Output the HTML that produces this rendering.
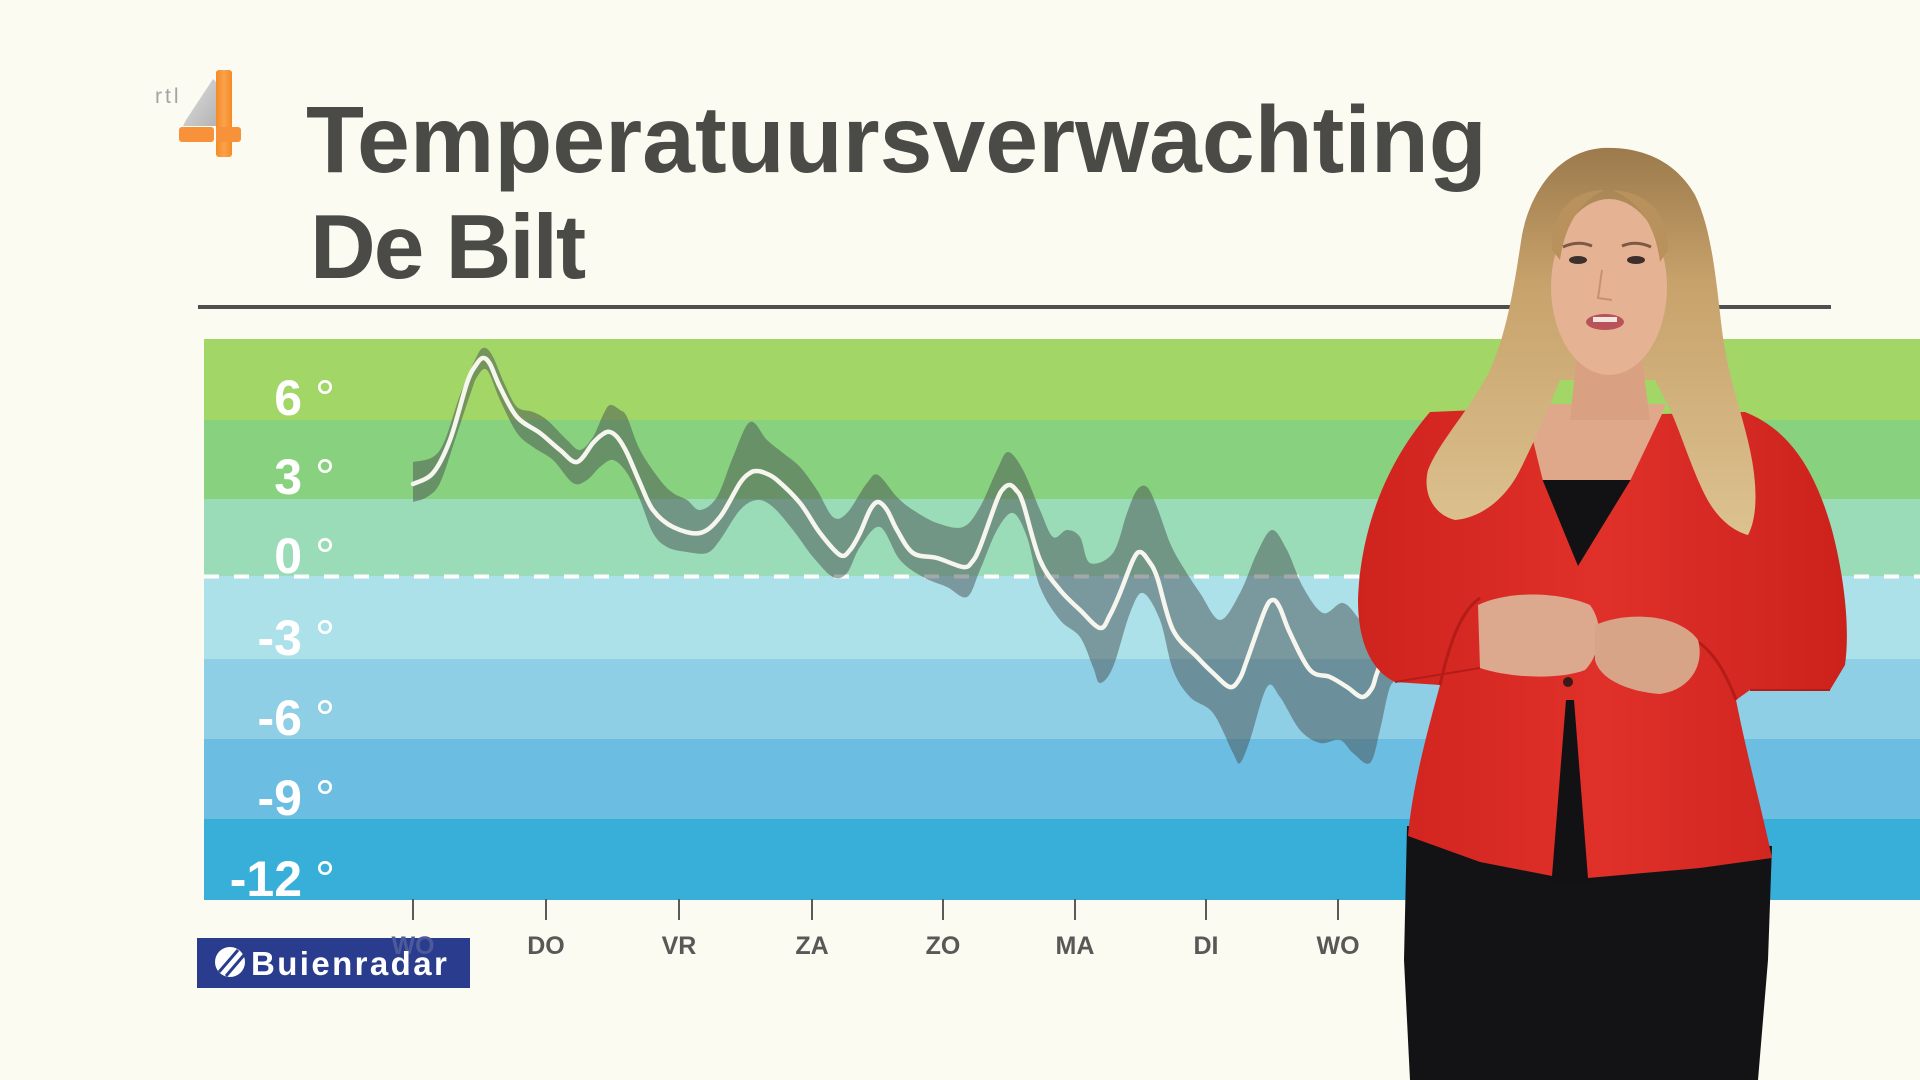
<!DOCTYPE html>
<html>
<head>
<meta charset="utf-8">
<style>
  html,body{margin:0;padding:0;background:#fbfbf1;}
  svg{display:block;}
  text{font-family:"Liberation Sans",Arial,sans-serif;}
</style>
</head>
<body>
<svg id="main" width="1920" height="1080" viewBox="0 0 1920 1080" xmlns="http://www.w3.org/2000/svg">
  <defs>
    <linearGradient id="hairG" x1="0" y1="0" x2="0" y2="1">
      <stop offset="0" stop-color="#9c7a4c"/>
      <stop offset="0.35" stop-color="#c8a26b"/>
      <stop offset="1" stop-color="#dcc290"/>
    </linearGradient>
    <linearGradient id="orG" x1="0" y1="0" x2="1" y2="0">
      <stop offset="0" stop-color="#f58a24"/>
      <stop offset="0.5" stop-color="#fba24e"/>
      <stop offset="1" stop-color="#f58a24"/>
    </linearGradient>
    <linearGradient id="grG" x1="0" y1="0" x2="1" y2="1">
      <stop offset="0" stop-color="#e0e0e0"/>
      <stop offset="1" stop-color="#b4b4b4"/>
    </linearGradient>
    <linearGradient id="jacketG" x1="0" y1="0" x2="1" y2="0">
      <stop offset="0" stop-color="#cf231d"/>
      <stop offset="0.5" stop-color="#e0302a"/>
      <stop offset="1" stop-color="#cc221c"/>
    </linearGradient>
  </defs>

  <!-- background -->
  <rect x="0" y="0" width="1920" height="1080" fill="#fbfbf1"/>

  <!-- RTL4 logo -->
  <text x="155" y="103" font-size="21" fill="#a3a3a3" letter-spacing="3">rtl</text>
  <polygon points="213,79 216,82 216,126 183,126 186,120" fill="url(#grG)"/>
  <rect x="216" y="70" width="16" height="87" rx="3" fill="url(#orG)"/>
  <rect x="179" y="127" width="35" height="15" rx="3" fill="#f7923a"/>
  <rect x="216" y="127" width="25" height="15" rx="3" fill="#f7923a"/>

  <!-- Title -->
  <text x="306" y="172" font-size="95" font-weight="bold" fill="#4a4b47">Temperatuursverwachting</text>
  <text x="310" y="278" font-size="91" font-weight="bold" fill="#4a4b47" letter-spacing="-2">De Bilt</text>

  <!-- rule -->
  <line x1="198" y1="307" x2="1831" y2="307" stroke="#4f4f4d" stroke-width="4"/>

  <!-- chart bands -->
  <rect x="204" y="339" width="1716" height="82" fill="#a2d667"/>
  <rect x="204" y="420" width="1716" height="80" fill="#88d17e"/>
  <rect x="204" y="499" width="1716" height="78" fill="#9adbb8"/>
  <rect x="204" y="576" width="1716" height="84" fill="#ace1ea"/>
  <rect x="204" y="659" width="1716" height="81" fill="#8fcfe5"/>
  <rect x="204" y="739" width="1716" height="81" fill="#6bbde1"/>
  <rect x="204" y="819" width="1716" height="81" fill="#38afd9"/>

  <!-- zero dashed line -->
  <line x1="204" y1="576.5" x2="1920" y2="576.5" stroke="#ffffff" stroke-width="4" stroke-dasharray="15 15"/>

  <!-- uncertainty band -->
  <polygon id="band" fill="rgba(72,82,82,0.5)" points="
413,462 433,457 445,440 460,395 475,360 483,348 492,355 505,385 517,407 533,412 547,420 567,440 580,450 593,437 603,415 610,405 620,410 627,417 640,450 660,480 673,493 687,500 700,510 717,497 733,457 750,422 767,440 783,453 800,467 817,490 833,517 847,513 867,483 878,475 897,497 913,510 937,523 963,527 980,507 997,470 1008,452 1023,470 1040,510 1053,537 1067,530 1080,537 1090,563 1113,553 1127,513 1137,490 1147,487 1157,507 1170,543 1183,567 1200,593 1220,620 1240,593 1257,553 1272,530 1287,550 1303,587 1323,613 1343,603 1360,620 1377,640 1400,660
1400,680 1390,687 1380,730 1370,763 1353,753 1340,740 1320,743 1300,730 1280,697 1267,687 1250,740 1240,763 1233,753 1213,713 1190,697 1173,670 1160,620 1143,593 1130,613 1113,667 1100,683 1093,667 1080,637 1060,620 1040,587 1027,537 1013,513 997,530 980,570 967,597 947,587 923,577 900,560 880,527 860,547 847,573 833,577 813,557 793,530 773,507 757,500 740,510 720,540 707,553 687,552 667,547 653,533 640,500 627,473 613,460 600,467 587,480 573,483 553,460 533,447 517,433 500,400 487,370 477,377 470,395 455,440 440,483 427,497 413,502"/>

  <!-- mean line -->
  <polyline id="meanline" fill="none" stroke="#f6f6ee" stroke-width="4.5" stroke-linejoin="round" stroke-linecap="round" points="
413,484 433,473 450,440 467,383 476,365 483,358 490,364 500,387 517,417 540,433 560,450 577,462 593,443 603,434 610,432 618,438 627,453 640,483 653,510 673,527 700,533 720,517 740,483 750,473 757,471 765,473 777,480 800,503 820,533 840,555 850,550 860,533 870,510 878,502 887,510 897,530 913,553 937,558 963,567 972,562 980,547 997,500 1004,488 1010,485 1016,490 1023,503 1040,560 1060,590 1080,610 1100,628 1110,615 1120,593 1133,560 1140,552 1148,560 1157,577 1173,630 1197,657 1213,673 1230,687 1240,678 1247,660 1265,610 1273,600 1280,608 1290,633 1310,670 1330,677 1347,687 1362,697 1372,688 1377,673 1390,640"/>

  <!-- y labels -->
  <g fill="#ffffff">
    <text x="302" y="415" font-size="50" font-weight="bold" text-anchor="end">6</text>
    <text x="302" y="494" font-size="50" font-weight="bold" text-anchor="end">3</text>
    <text x="302" y="573" font-size="50" font-weight="bold" text-anchor="end">0</text>
    <text x="302" y="655" font-size="50" font-weight="bold" text-anchor="end">-3</text>
    <text x="302" y="735" font-size="50" font-weight="bold" text-anchor="end">-6</text>
    <text x="302" y="815" font-size="50" font-weight="bold" text-anchor="end">-9</text>
    <text x="302" y="896" font-size="50" font-weight="bold" text-anchor="end">-12</text>
    <text x="315" y="415" font-size="50">°</text>
    <text x="315" y="494" font-size="50">°</text>
    <text x="315" y="573" font-size="50">°</text>
    <text x="315" y="655" font-size="50">°</text>
    <text x="315" y="735" font-size="50">°</text>
    <text x="315" y="815" font-size="50">°</text>
    <text x="315" y="896" font-size="50">°</text>
  </g>

  <!-- x ticks -->
  <g stroke="#5a5a58" stroke-width="2">
    <line x1="413" y1="899" x2="413" y2="920"/>
    <line x1="546" y1="899" x2="546" y2="920"/>
    <line x1="679" y1="899" x2="679" y2="920"/>
    <line x1="812" y1="899" x2="812" y2="920"/>
    <line x1="943" y1="899" x2="943" y2="920"/>
    <line x1="1075" y1="899" x2="1075" y2="920"/>
    <line x1="1206" y1="899" x2="1206" y2="920"/>
    <line x1="1338" y1="899" x2="1338" y2="920"/>
  </g>
  <g font-size="25" font-weight="bold" fill="#585856" text-anchor="middle">
    <text x="546" y="954">DO</text>
    <text x="679" y="954">VR</text>
    <text x="812" y="954">ZA</text>
    <text x="943" y="954">ZO</text>
    <text x="1075" y="954">MA</text>
    <text x="1206" y="954">DI</text>
    <text x="1338" y="954">WO</text>
  </g>

  <!-- Buienradar box -->
  <rect x="197" y="938" width="273" height="50" fill="#293c8e"/>
  <text x="413" y="954" font-size="25" font-weight="bold" fill="#4c5a9c" text-anchor="middle">WO</text>
  <circle cx="230" cy="962" r="15" fill="#ffffff"/>
  <line x1="219" y1="972" x2="238" y2="950" stroke="#293c8e" stroke-width="3"/>
  <line x1="226" y1="976" x2="244" y2="955" stroke="#293c8e" stroke-width="3"/>
  <text x="251" y="975" font-size="33" font-weight="bold" fill="#ffffff" letter-spacing="2.4">Buienradar</text>

  <!-- ===== Presenter ===== -->
  <path d="M1407,826 L1772,846 L1768,960 L1758,1080 L1410,1080 L1404,960 Z" fill="#131315"/>
  <polygon points="1548,688 1592,688 1594,882 1546,882" fill="#121214"/>
  <polygon points="1522,404 1666,404 1632,483 1541,483" fill="#dfa88b"/>
  <polygon points="1538,480 1636,480 1578,572" fill="#121214"/>
  <path fill="url(#jacketG)" d="M1430,412 L1525,408 L1543,481 L1578,566 L1630,481 L1662,414 L1745,412
    C1790,430 1815,470 1832,530 C1845,580 1850,630 1845,665 L1830,690 L1750,690 L1736,700
    C1748,760 1762,810 1772,858 L1700,868 L1588,878 L1574,700 L1566,700 L1552,876
    L1480,862 L1408,836 C1412,790 1425,740 1440,685 L1395,682
    C1370,670 1358,640 1358,600 C1360,540 1380,470 1430,412 Z"/>
  <path d="M1440,685 C1450,640 1462,610 1480,598" fill="none" stroke="#b51c17" stroke-width="3"/>
  <path d="M1736,700 C1725,670 1712,650 1695,640" fill="none" stroke="#b51c17" stroke-width="3"/>
  <path d="M1395,682 L1480,668" fill="none" stroke="#b51c17" stroke-width="2"/>
  <path d="M1750,690 L1830,690" fill="none" stroke="#b51c17" stroke-width="2"/>
  <circle cx="1572" cy="618" r="5" fill="#3a1a18"/>
  <circle cx="1568" cy="682" r="5" fill="#3a1a18"/>

  <path fill="url(#hairG)" d="M1602,148
    C1640,146 1675,160 1695,195
    C1712,230 1716,280 1722,330
    C1728,380 1745,420 1752,460
    C1758,495 1756,520 1748,535
    C1730,530 1715,515 1705,495
    C1690,465 1680,430 1668,405
    L1655,380 L1560,380
    C1548,410 1535,440 1520,470
    C1505,500 1480,518 1455,520
    C1435,515 1422,495 1428,470
    C1440,440 1470,410 1490,370
    C1508,330 1515,280 1522,235
    C1530,195 1555,152 1602,148 Z"/>
  <polygon points="1578,345 1640,345 1650,420 1570,420" fill="#d9a182"/>
  <ellipse cx="1609" cy="287" rx="58" ry="88" fill="#e6b294"/>
  <path d="M1552,250 C1550,215 1570,190 1605,190 C1580,200 1565,225 1560,260 Z" fill="#b8915c"/>
  <path d="M1668,250 C1668,215 1650,192 1612,190 C1640,202 1655,225 1660,262 Z" fill="#b8915c"/>
  <path d="M1563,247 Q1578,240 1592,246" fill="none" stroke="#7a5a42" stroke-width="3"/>
  <path d="M1622,246 Q1636,240 1651,247" fill="none" stroke="#7a5a42" stroke-width="3"/>
  <ellipse cx="1578" cy="260" rx="9" ry="4" fill="#3d2f2b"/>
  <ellipse cx="1636" cy="260" rx="9" ry="4" fill="#3d2f2b"/>
  <path d="M1602,270 L1598,298 L1612,300" fill="none" stroke="#c98f74" stroke-width="2"/>
  <ellipse cx="1605" cy="322" rx="19" ry="8" fill="#b9535a"/>
  <rect x="1593" y="317" width="24" height="5" fill="#f2e6e0"/>

  <path d="M1478,605 C1510,590 1560,592 1590,605 C1605,625 1600,655 1585,670 C1560,680 1510,678 1480,668 Z" fill="#dca98e"/>
  <path d="M1595,625 C1630,610 1680,615 1698,640 C1705,665 1690,690 1660,694 C1630,692 1600,680 1595,660 Z" fill="#d8a488"/>
</svg>
<script>
(function(){
  var NS='http://www.w3.org/2000/svg';
  function parse(s){return s.trim().split(/\s+/).map(function(t){var a=t.split(',');return [+a[0],+a[1]];});}
  function cr(p,start){
    var d=(start?'M':'L')+p[0][0]+','+p[0][1];
    for(var i=0;i<p.length-1;i++){
      var p0=p[i-1]||p[i],p1=p[i],p2=p[i+1],p3=p[i+2]||p2;
      var c1x=p1[0]+(p2[0]-p0[0])/6,c1y=p1[1]+(p2[1]-p0[1])/6;
      var c2x=p2[0]-(p3[0]-p1[0])/6,c2y=p2[1]-(p3[1]-p1[1])/6;
      d+=' C'+c1x.toFixed(1)+','+c1y.toFixed(1)+' '+c2x.toFixed(1)+','+c2y.toFixed(1)+' '+p2[0]+','+p2[1];
    }
    return d;
  }
  try{
    var pl=document.getElementById('meanline');
    var pts=parse(pl.getAttribute('points'));
    var path=document.createElementNS(NS,'path');
    path.setAttribute('d',cr(pts,true));
    ['fill','stroke','stroke-width','stroke-linejoin','stroke-linecap'].forEach(function(a){path.setAttribute(a,pl.getAttribute(a));});
    pl.parentNode.replaceChild(path,pl);

    var bd=document.getElementById('band');
    var bp=parse(bd.getAttribute('points'));
    var k=0;
    for(var i=1;i<bp.length;i++){ if(bp[i][0]<bp[i-1][0] || (bp[i][0]===bp[i-1][0])){k=i;break;} }
    var up=bp.slice(0,k), lo=bp.slice(k);
    var bpath=document.createElementNS(NS,'path');
    bpath.setAttribute('d',cr(up,true)+' '+cr(lo,false)+' Z');
    bpath.setAttribute('fill',bd.getAttribute('fill'));
    bd.parentNode.replaceChild(bpath,bd);
  }catch(e){}
})();
</script>
</body>
</html>
